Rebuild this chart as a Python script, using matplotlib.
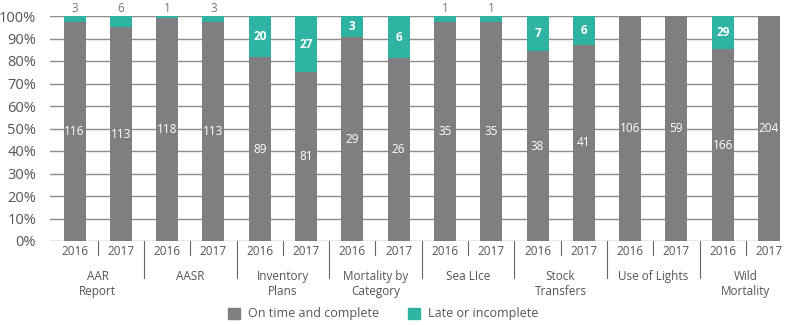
import matplotlib
matplotlib.use("Agg")
import matplotlib.pyplot as plt
import matplotlib.transforms as mtransforms
from matplotlib.patches import Patch
import numpy as np

groups = ["AAR\nReport", "AASR", "Inventory\nPlans", "Mortality by\nCategory",
          "Sea LIce", "Stock\nTransfers", "Use of Lights", "Wild\nMortality"]
years = ["2016", "2017"]
on_time = [116, 113, 118, 113, 89, 81, 29, 26, 35, 35, 38, 41, 106, 59, 166, 204]
late = [3, 6, 1, 3, 20, 27, 3, 6, 1, 1, 7, 6, 0, 0, 29, 0]
yticks = [0, 10, 20, 30, 40, 50, 60, 70, 80, 90, 100]

GRAY = "#7f7f82"
TEAL = "#2fb3a2"
TXT = "#555555"
FONT = "Open Sans"

plt.rcParams['font.family'] = [FONT, 'DejaVu Sans']

fig = plt.figure(figsize=(7.98, 3.25), dpi=100)
ax = fig.add_axes([50/798, 1-241/325, 730/798, 225/325])

on = np.array(on_time, float)
lt = np.array(late, float)
tot = on + lt
on_pct = on / tot * 100
lt_pct = lt / tot * 100
x = np.arange(len(on))
w = 0.475

for yv in yticks:
    ax.axhline(yv, color="#8c8c8c", lw=1.0, zorder=0)

ax.bar(x, on_pct, width=w, color=GRAY, zorder=2, label="On time and complete")
ax.bar(x, lt_pct, bottom=on_pct, width=w, color=TEAL, zorder=2, label="Late or incomplete")

for i in range(len(x)):
    ax.text(x[i], on_pct[i]/2, f"{int(on[i])}", ha="center", va="center",
            color="white", fontsize=8.5, zorder=3)
    if lt[i] > 0:
        if lt_pct[i] >= 9:
            ax.text(x[i], on_pct[i] + lt_pct[i]/2, f"{int(lt[i])}", ha="center",
                    va="center", color="white", fontsize=8.5, fontweight="bold", zorder=3)
        else:
            ax.text(x[i], 103.5, f"{int(lt[i])}", ha="center", va="center",
                    color="#777777", fontsize=8.5, zorder=3)

ax.set_xlim(-0.53, 15 + w/2)
ax.set_ylim(0, 100)
ax.set_yticks(yticks)
ax.set_yticklabels([f"{v}%" for v in yticks], fontsize=10.5, color=TXT)
ax.tick_params(axis="y", length=0, pad=10)
ax.set_xticks([])
for s in ax.spines.values():
    s.set_visible(False)

trans = mtransforms.blended_transform_factory(ax.transData, ax.transAxes)
for i in range(len(x)):
    ax.text(x[i], -0.046, years[i % 2], transform=trans, ha="center", va="center",
            fontsize=8.5, color=TXT, clip_on=False)
for g in range(len(groups)):
    ax.plot([2*g + 0.5, 2*g + 0.5], [0, -0.062], transform=trans, color="#666666",
            lw=0.8, clip_on=False)
    if g > 0:
        ax.plot([2*g - 0.5, 2*g - 0.5], [0, -0.164], transform=trans, color="#666666",
                lw=0.8, clip_on=False)
    ax.text(2*g + 0.5, -0.128, groups[g], transform=trans, ha="center", va="top",
            fontsize=8.5, color=TXT, linespacing=1.2, clip_on=False)

handles = [Patch(color=GRAY), Patch(color=TEAL)]
fig.legend(handles, ["On time and complete", "Late or incomplete"], loc="center",
           bbox_to_anchor=(383/798, 1-314/325), ncol=2, frameon=False,
           fontsize=9, handlelength=1.0, handleheight=1.0, columnspacing=2.3,
           handletextpad=0.6, labelcolor=TXT)

fig.savefig("out.png", dpi=100)
